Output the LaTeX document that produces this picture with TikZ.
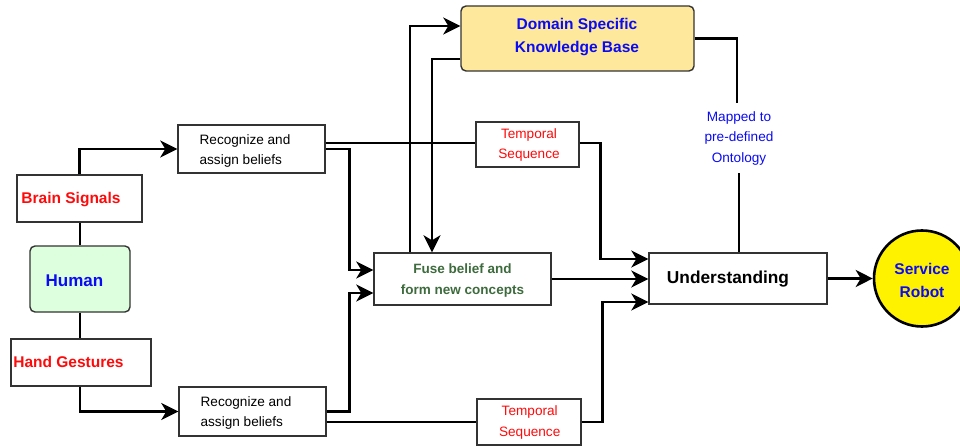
\documentclass[tikz,border=0pt]{standalone}
\usepackage{fontspec}
\setmainfont{Liberation Sans}
\usetikzlibrary{arrows.meta,calc}
\definecolor{kbfill}{HTML}{FDE89B}
\definecolor{humfill}{HTML}{DDFFDD}
\definecolor{fusegreen}{HTML}{3D6B3D}
\definecolor{boxline}{HTML}{333333}
\definecolor{myblue}{HTML}{0A0AF5}
\definecolor{myred}{HTML}{FF0A0A}
\tikzset{
  box/.style={draw=boxline, line width=1.4pt, fill=white, inner sep=0pt},
  rbox/.style={box, rounded corners=5pt},
  conn/.style={line width=2.7pt, draw=black},
  arr/.style={conn, -{Stealth[length=17pt,width=17pt,inset=5pt]}},
  txt/.style={inner sep=0pt, align=center},
  smalltxt/.style={txt, font=\fontsize{13.6}{20.5}\selectfont},
  boldtxt/.style={txt, font=\fontsize{15.5}{23}\selectfont\bfseries},
}
\begin{document}
\begin{tikzpicture}[x=1pt,y=-1pt]
\useasboundingbox (0,0) rectangle (960,446);
% boxes
\node[box, minimum width=125pt, minimum height=47pt] (bs) at (79.5,198.5) {};
\node[rbox, fill=humfill, minimum width=100pt, minimum height=66pt] (hum) at (80,279) {};
\node[box, minimum width=140pt, minimum height=47pt] (hg) at (81,362.5) {};
\node[box, minimum width=147pt, minimum height=48pt] (rt) at (251.5,149) {};
\node[box, minimum width=147pt, minimum height=49pt] (rb) at (252.5,411.5) {};
\node[rbox, fill=kbfill, minimum width=233pt, minimum height=65pt] (kb) at (577.5,38.5) {};
\node[box, minimum width=103pt, minimum height=45pt] (tt) at (527.5,144.5) {};
\node[box, minimum width=177pt, minimum height=52pt] (fu) at (462.5,279) {};
\node[box, minimum width=178pt, minimum height=51pt] (un) at (738,278.5) {};
\node[box, minimum width=104pt, minimum height=46pt] (tb) at (529,422) {};
\node[circle, draw=black, line width=2.6pt, fill=yellow, minimum size=96pt, inner sep=0pt] (sr) at (922,278.5) {};
% texts
\node[boldtxt, text=myred] (bst) at (71,200) {Brain Signals};
\node[txt, text=myblue, font=\fontsize{17}{20}\selectfont\bfseries] (humt) at (74.5,281) {Human};
\node[boldtxt, text=myred] (hgt) at (68.5,362) {Hand Gestures};
\node[smalltxt, align=left] (rtt) at (245,151) {Recognize and\\assign beliefs};
\node[smalltxt, align=left] (rbt) at (246,413) {Recognize and\\assign beliefs};
\node[boldtxt, text=myblue] (kbt) at (577,37.5) {Domain Specific\\Knowledge Base};
\node[smalltxt, text=myred] (ttt) at (529,145) {Temporal\\Sequence};
\node[smalltxt, text=myred] (tbt) at (529.7,422.5) {Temporal\\Sequence};
\node[txt, text=fusegreen, font=\fontsize{13.5}{21}\selectfont\bfseries] (fut) at (462.5,280.5) {Fuse belief and\\form new concepts};
\node[txt, font=\fontsize{17.3}{20}\selectfont\bfseries] (unt) at (728,279) {Understanding};
\node[boldtxt, text=myblue] (srt) at (922,280.5) {Service\\Robot};
\node[smalltxt, text=myblue, inner sep=0pt, minimum height=70pt] (map) at (739,138) {Mapped to\\pre-defined\\Ontology};
% connectors
\draw[arr] (bs.north) |- (rt.west);
\draw[conn] (hum.north) -- (hum.north |- bs.south);
\draw[conn] (hum.south) -- (hum.south |- hg.north);
\draw[arr] (hum.south |- hg.south) |- (rb.west);
\draw[conn] ([yshift=6pt]rt.east) -- ([yshift=6pt]rt.east -| tt.west);
\draw[arr] (rt.east) -- ++(24,0) |- ([yshift=9pt]fu.west);
\draw[arr] (rb.east) -- ++(23,0) |- ([yshift=-14pt]fu.west);
\draw[conn] (rb.east |- tb.west) -- (tb.west);
\draw[arr] ([yshift=1.5pt]tt.east) -- ++(21,0) |- ([yshift=19.5pt]un.west);
\draw[arr] (fu.east) -- (fu.east -| un.west);
\draw[arr] (tb.east) -- ++(21,0) |- ([yshift=-23.5pt]un.west);
\draw[arr] ([xshift=-52.5pt]fu.north) |- ([yshift=12.5pt]kb.west);
\draw[arr] ([yshift=-20.5pt]kb.west) -| ([xshift=-30.5pt]fu.north);
\draw[conn] (kb.east) -| ([xshift=-2pt]map.north);
\draw[conn] (map.south) -- (map.south |- un.north);
\draw[arr] (un.east) -- (sr.west);
\end{tikzpicture}
\end{document}
